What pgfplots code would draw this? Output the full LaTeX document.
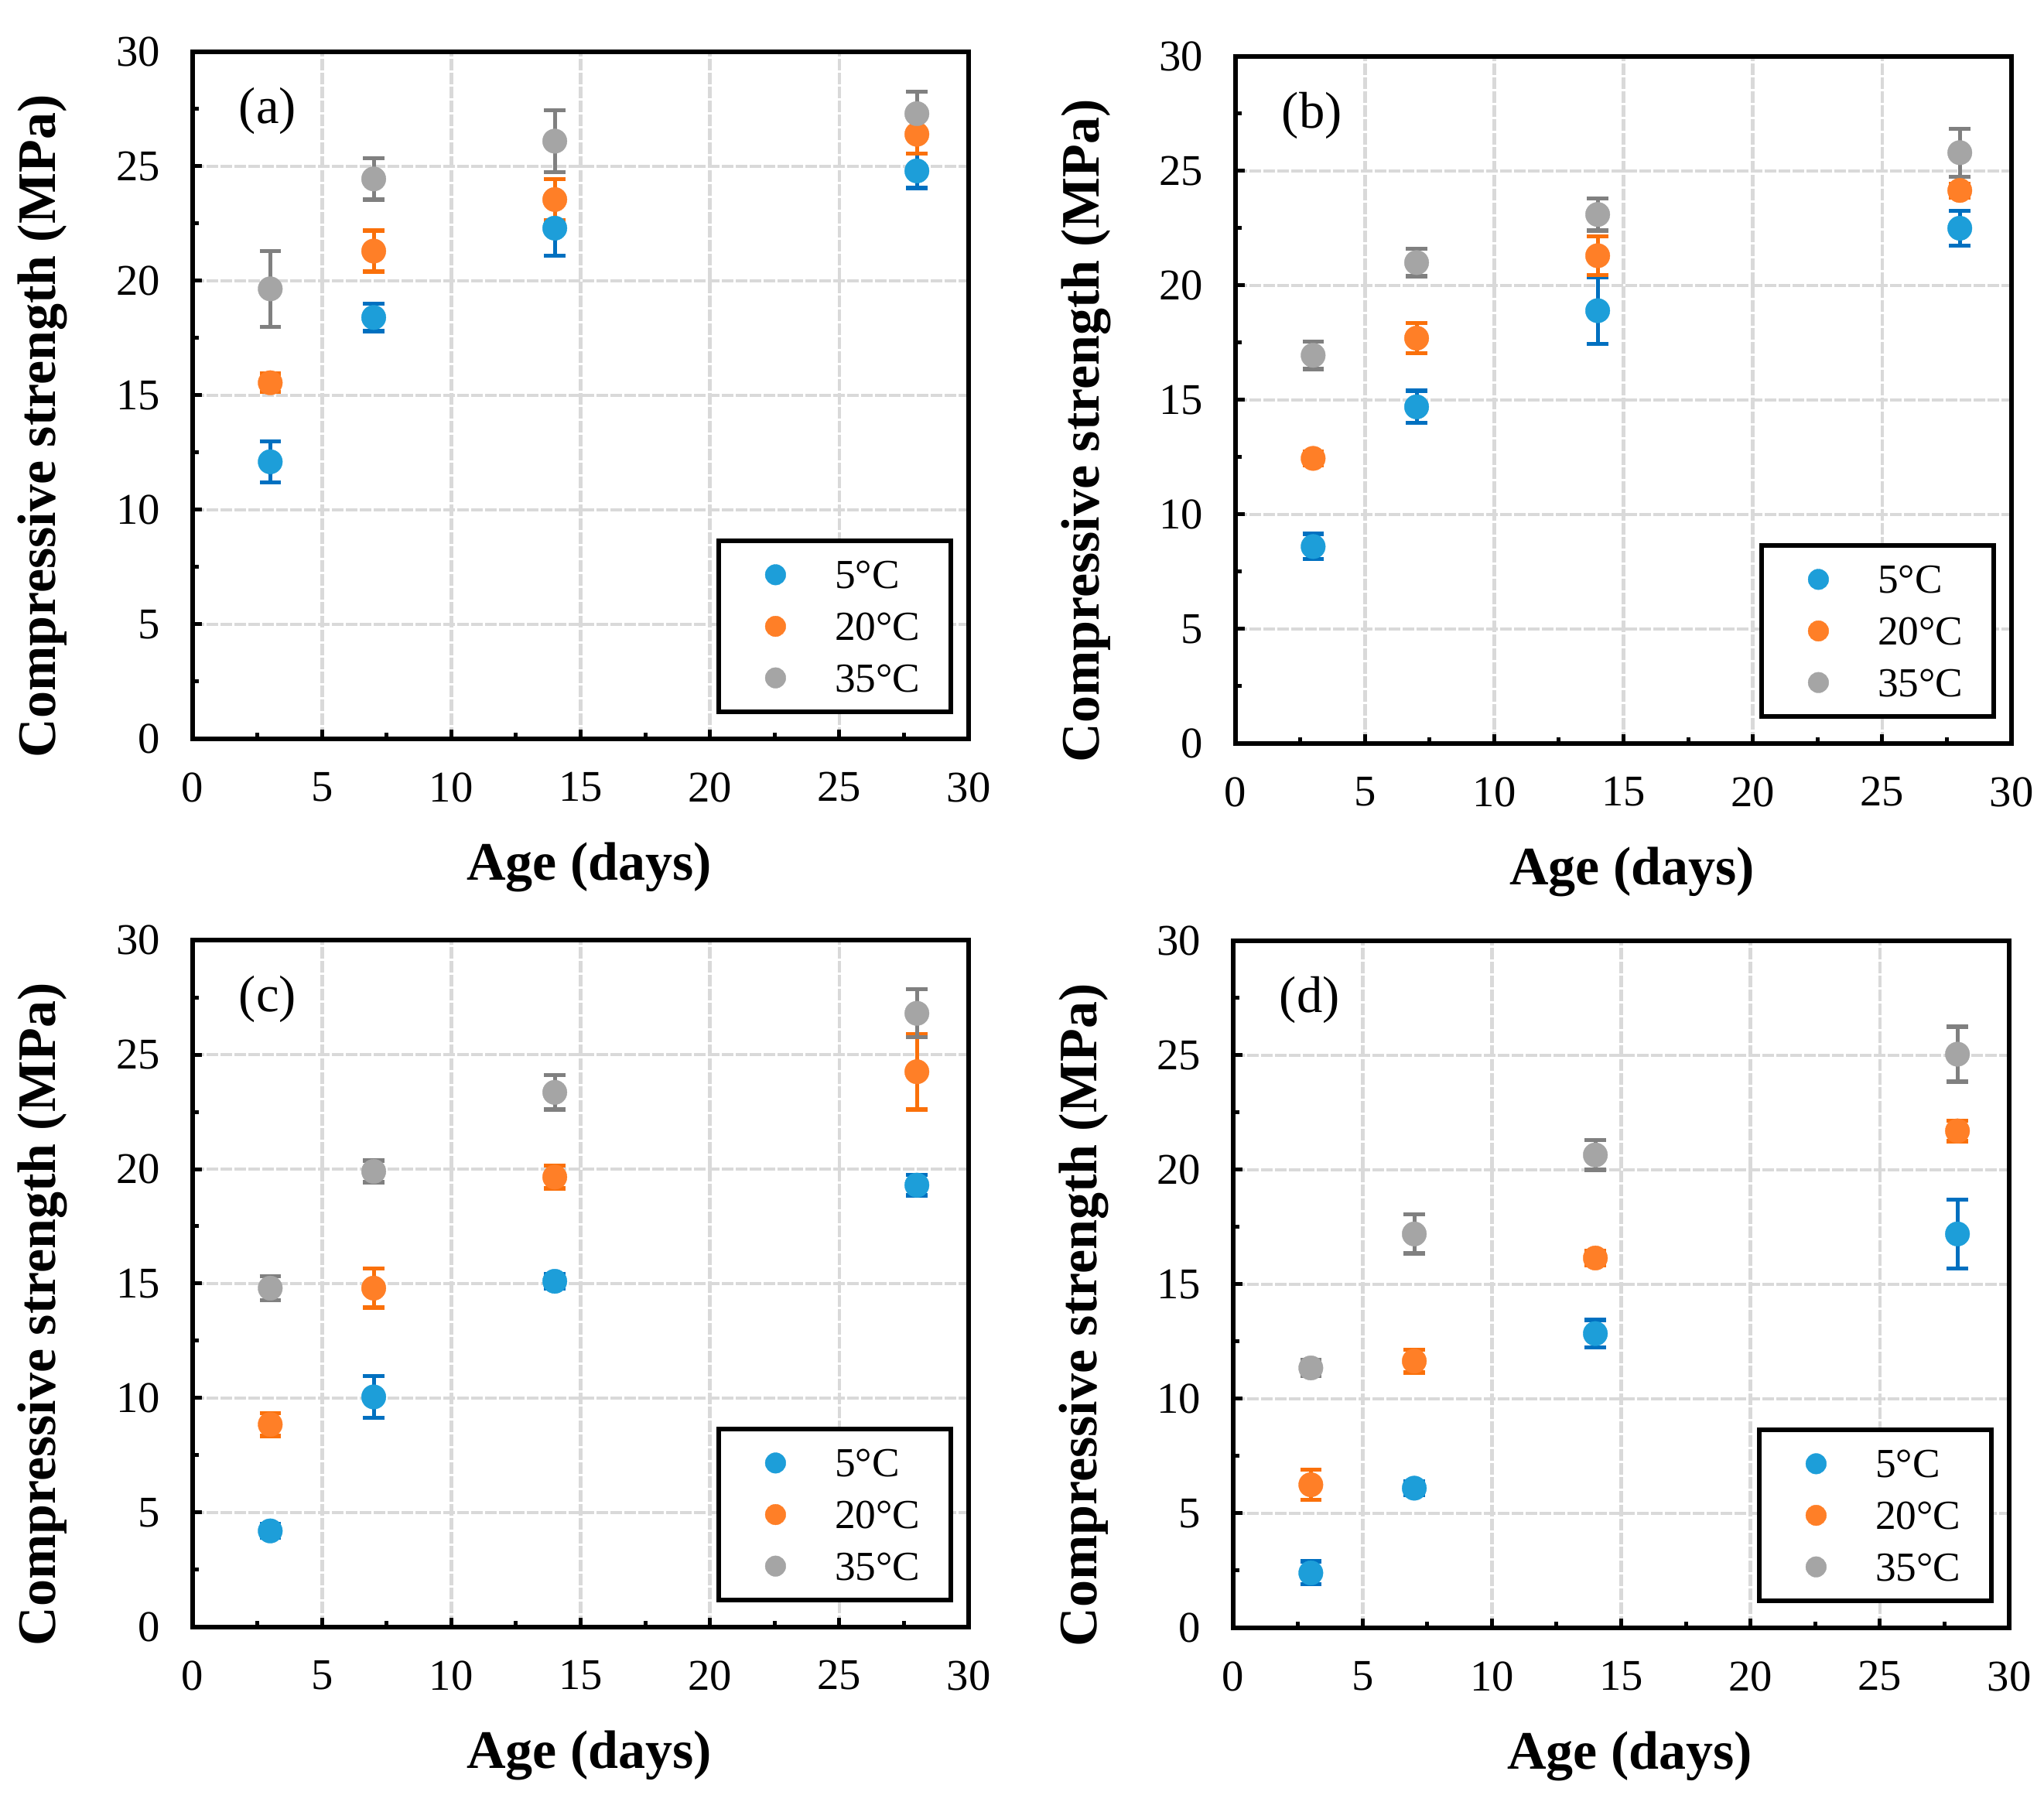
\documentclass[border=0pt]{standalone}
\usepackage{fontspec}
\setmainfont{Liberation Serif}
\usepackage{pgfplots}
\pgfplotsset{compat=1.18}

\definecolor{blue5}{RGB}{29,158,217}
\definecolor{blue5e}{RGB}{0,112,192}
\definecolor{orange20}{RGB}{255,127,39}
\definecolor{orange20e}{RGB}{250,112,10}
\definecolor{gray35}{RGB}{165,165,165}
\definecolor{gray35e}{RGB}{128,128,128}
\definecolor{gridgray}{RGB}{217,217,217}

\pgfplotsset{
  panel/.style={
    width=300.9pt, height=266.4pt, scale only axis,
    anchor=south west,
    xmin=0, xmax=30, ymin=0, ymax=30,
    xtick distance=5, ytick distance=5, minor tick num=1,
    grid=major,
    major grid style={gridgray, line width=1.4pt, dash pattern=on 4.4pt off 1pt},
    axis line style={line width=1.8pt},
    tick style={black, line width=1.5pt},
    major tick length=3.6pt, minor tick length=2.3pt,
    tick align=inside, xtick pos=bottom, ytick pos=left,
    /pgf/number format/assume math mode=true,
    ticklabel style={font=\fontsize{17}{20}\selectfont},
    yticklabel style={xshift=-9pt},
    xticklabel style={yshift=-9.5pt},
    label style={font=\fontsize{21}{25}\selectfont\bfseries},
    xlabel={Age (days)},
    ylabel={Compressive strength (MPa)},
    xlabel style={at={(axis description cs:0.511,-0.187)}, anchor=center},
    ylabel style={at={(axis description cs:-0.193,0.455)}, anchor=center},
    legend style={at={(axis description cs:0.980,0.036)}, anchor=south east,
      draw=black, line width=1.7pt, inner xsep=0pt, inner ysep=3.2pt,
      row sep=0pt, font=\fontsize{16}{19}\selectfont,
      nodes={inner xsep=0pt, inner ysep=0pt, text height=15.4pt,
        text depth=4.6pt, text width=45pt, align=left}},
    legend cell align=left,
    legend image code/.code={
      \path[draw=none, fill=none] (0pt,-1pt) rectangle (45pt,1pt);
      \draw[#1, draw=none, line width=0.1pt, mark size=4pt]
        plot coordinates {(22pt,0pt)};
    },
  },
  s5/.style={only marks, mark=*, mark size=4.75pt, color=blue5,
    mark options={fill=blue5, draw=blue5, line width=0.1pt}},
  s20/.style={only marks, mark=*, mark size=4.75pt, color=orange20,
    mark options={fill=orange20, draw=orange20, line width=0.1pt}},
  s35/.style={only marks, mark=*, mark size=4.75pt, color=gray35,
    mark options={fill=gray35, draw=gray35, line width=0.1pt}},
  e5/.style={error bars/.cd, y dir=both, y explicit,
    error bar style={draw=blue5e, line width=1.5pt},
    error mark options={rotate=90, mark size=4.1pt, draw=blue5e, line width=1.6pt}},
  e20/.style={error bars/.cd, y dir=both, y explicit,
    error bar style={draw=orange20e, line width=1.5pt},
    error mark options={rotate=90, mark size=4.1pt, draw=orange20e, line width=1.6pt}},
  e35/.style={error bars/.cd, y dir=both, y explicit,
    error bar style={draw=gray35e, line width=1.5pt},
    error mark options={rotate=90, mark size=4.1pt, draw=gray35e, line width=1.6pt}},
}

\newcommand{\panellabel}[1]{\node[anchor=west, font=\fontsize{20}{24}\selectfont, inner sep=0pt]
  at (axis description cs:0.059,0.914) {#1};}

\begin{document}
\begin{tikzpicture}
\useasboundingbox (0pt,0pt) rectangle (792.6pt,696pt);

% (a)
\begin{axis}[panel, at={(74.7pt,409.5pt)}]
\addplot[s5, e5] table[x=x, y=y, y error=e] {
x y e
3 12.1 0.9
7 18.4 0.6
14 22.3 1.2
28 24.8 0.75
};
\addplot[s20, e20] table[x=x, y=y, y error=e] {
x y e
3 15.55 0.4
7 21.3 0.9
14 23.55 0.9
28 26.4 0.85
};
\addplot[s35, e35] table[x=x, y=y, y error=e] {
x y e
3 19.65 1.65
7 24.45 0.9
14 26.1 1.35
28 27.3 0.95
};
\legend{5°C, 20°C, 35°C}
\panellabel{(a)}
\end{axis}

% (b)
\begin{axis}[panel, at={(479.1pt,407.7pt)}]
\addplot[s5, e5] table[x=x, y=y, y error=e] {
x y e
3 8.6 0.55
7 14.7 0.7
14 18.9 1.45
28 22.5 0.75
};
\addplot[s20, e20] table[x=x, y=y, y error=e] {
x y e
3 12.45 0.3
7 17.7 0.65
14 21.3 0.85
28 24.15 0.3
};
\addplot[s35, e35] table[x=x, y=y, y error=e] {
x y e
3 16.95 0.6
7 21.0 0.6
14 23.1 0.7
28 25.8 1.05
};
\legend{5°C, 20°C, 35°C}
\panellabel{(b)}
\end{axis}

% (c)
\begin{axis}[panel, at={(74.7pt,65.1pt)}]
\addplot[s5, e5] table[x=x, y=y, y error=e] {
x y e
3 4.2 0.3
7 10.05 0.92
14 15.1 0.3
28 19.3 0.45
};
\addplot[s20, e20] table[x=x, y=y, y error=e] {
x y e
3 8.85 0.5
7 14.8 0.85
14 19.65 0.5
28 24.25 1.65
};
\addplot[s35, e35] table[x=x, y=y, y error=e] {
x y e
3 14.8 0.53
7 19.9 0.47
14 23.35 0.75
28 26.8 1.05
};
\legend{5°C, 20°C, 35°C}
\panellabel{(c)}
\end{axis}

% (d)
\begin{axis}[panel, at={(478.2pt,64.8pt)}]
\addplot[s5, e5] table[x=x, y=y, y error=e] {
x y e
3 2.4 0.5
7 6.1 0.3
14 12.85 0.6
28 17.2 1.5
};
\addplot[s20, e20] table[x=x, y=y, y error=e] {
x y e
3 6.25 0.65
7 11.65 0.5
14 16.15 0.3
28 21.7 0.45
};
\addplot[s35, e35] table[x=x, y=y, y error=e] {
x y e
3 11.35 0.35
7 17.2 0.85
14 20.65 0.65
28 25.05 1.2
};
\legend{5°C, 20°C, 35°C}
\panellabel{(d)}
\end{axis}
\end{tikzpicture}
\end{document}
